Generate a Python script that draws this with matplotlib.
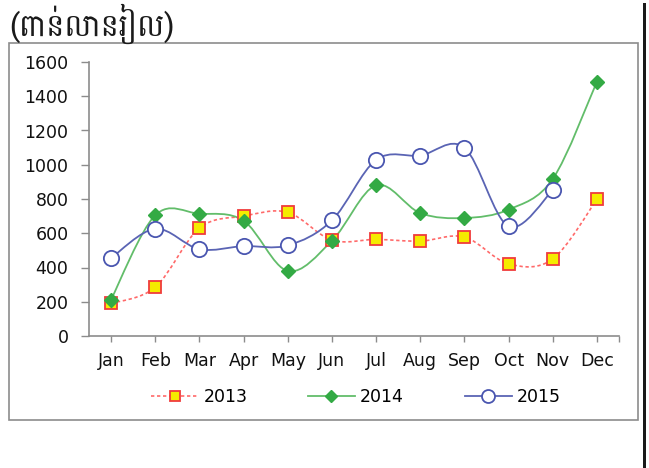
import matplotlib
matplotlib.use("Agg")
import matplotlib.pyplot as plt
from matplotlib.path import Path
from matplotlib.patches import PathPatch, Rectangle
from matplotlib.lines import Line2D
import numpy as np

# data
months = ['Jan', 'Feb', 'Mar', 'Apr', 'May', 'Jun',
          'Jul', 'Aug', 'Sep', 'Oct', 'Nov', 'Dec']
y2013 = [190, 285, 630, 700, 722, 560, 564, 554, 578, 421, 450, 798]
y2014 = [213, 705, 714, 673, 380, 556, 880, 718, 689, 738, 917, 1485]
y2015 = [455, 626, 507, 525, 529, 675, 1028, 1054, 1099, 640, 851]
yticks = [0, 200, 400, 600, 800, 1000, 1200, 1400, 1600]
unit_label = '(ពាន់លានរៀល)'

plt.rcParams['font.family'] = ['DejaVu Sans']


# smooth line through the points, like the excel "smoothed line"
def smooth_path(xs, ys):
    pts = np.column_stack([xs, ys]).astype(float)
    n = len(pts)
    verts = [pts[0]]
    codes = [Path.MOVETO]
    for i in range(n - 1):
        p0 = pts[max(i - 1, 0)]
        p1 = pts[i]
        p2 = pts[i + 1]
        p3 = pts[min(i + 2, n - 1)]
        verts += [p1 + (p2 - p0) / 6, p2 - (p3 - p1) / 6, p2]
        codes += [Path.CURVE4] * 3
    return Path(verts, codes)


W, H = 649, 468
fig = plt.figure(figsize=(W / 100, H / 100), dpi=100)
ax = fig.add_axes([89 / W, 1 - 336 / H, (619 - 89) / W, (336 - 62) / H])

series = [
    (y2013, '2013', dict(color='#ff6a6a', ls=(0, (2, 1.6)), lw=1.2),
     dict(marker='s', ms=8, mfc='#f5ec00', mec='#f03c3c', mew=1.3)),
    (y2014, '2014', dict(color='#62bd6a', ls='-', lw=1.3),
     dict(marker='D', ms=7, mfc='#33aa44', mec='#33aa44', mew=1)),
    (y2015, '2015', dict(color='#5a64b4', ls='-', lw=1.3),
     dict(marker='o', ms=11, mfc='white', mec='#4a56b0', mew=1.3)),
]

handles = []
for vals, name, lstyle, mstyle in series:
    xs = np.arange(len(vals))
    ax.add_patch(PathPatch(smooth_path(xs, vals), fill=False,
                           edgecolor=lstyle['color'], linestyle=lstyle['ls'],
                           lw=lstyle['lw'], zorder=2))
    ax.plot(xs, vals, ls='none', zorder=3, **mstyle)
    handles.append(Line2D([], [], color=lstyle['color'], ls=lstyle['ls'],
                          lw=lstyle['lw'], label=name, **mstyle))

ax.set_xlim(-0.5, len(months) - 0.5)
ax.set_ylim(0, 1600)
ax.set_xticks(range(len(months)))
ax.set_xticklabels(months)
ax.set_xticks([len(months) - 0.5], minor=True)
ax.set_yticks(yticks)

for s in ['top', 'right']:
    ax.spines[s].set_visible(False)
for s in ['left', 'bottom']:
    ax.spines[s].set_color('#8c8c8c')
    ax.spines[s].set_linewidth(1.2)

ax.tick_params(axis='y', length=5.8, width=1, color='#8c8c8c',
               labelsize=12.5, labelcolor='#111111', pad=9)
ax.tick_params(axis='x', which='both', length=4.3, width=1, color='#8c8c8c',
               labelsize=12.5, labelcolor='#111111', pad=7)

# outer chart border and the dark bar on the right edge
fig.patches.append(Rectangle((9 / W, 1 - 420 / H), (638 - 9) / W, (420 - 43) / H,
                             transform=fig.transFigure, fill=False,
                             edgecolor='#8c8c8c', lw=1.2))
fig.patches.append(Rectangle((643 / W, 0), 3 / W, 1 - 3 / H,
                             transform=fig.transFigure, color='#1a1a1a', lw=0))

fig.text(9 / W, 1 - 24 / H, unit_label, fontsize=22,
         family=['Battambang', 'DejaVu Sans'],
         ha='left', va='center', color='#1a1a1a')

fig.legend(handles=handles, loc='center', bbox_to_anchor=(356 / W, 1 - 397 / H),
           ncol=3, frameon=False, fontsize=12.5, handlelength=2.7,
           handletextpad=0.3, columnspacing=3.5, numpoints=1, markerscale=0.85)

fig.savefig('out.png', dpi=100)
